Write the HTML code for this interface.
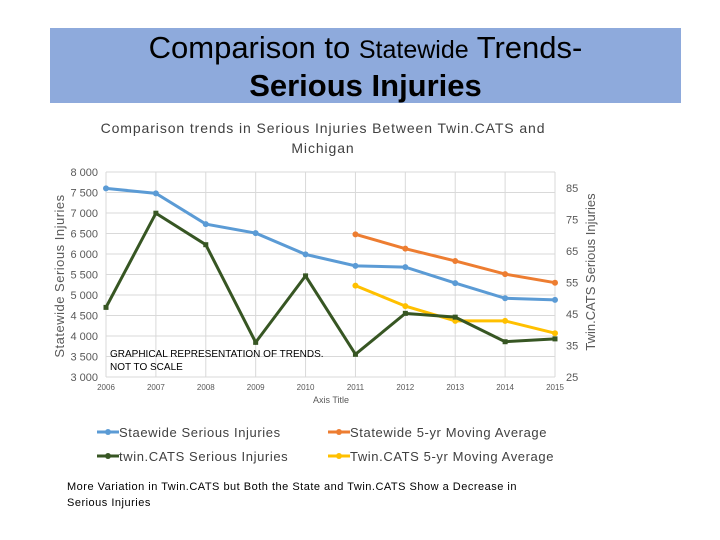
<!DOCTYPE html>
<html><head><meta charset="utf-8"><style>
body{margin:0;width:720px;height:540px;background:#fff;font-family:"Liberation Sans",sans-serif;position:relative;overflow:hidden}
.banner{position:absolute;left:50px;top:28px;width:631px;height:75px;background:#8eaadc;text-align:center;color:#000}
.t1{font-size:31px;line-height:36px;margin-top:2px}
.t2{font-size:31px;font-weight:bold;line-height:36px}
</style></head><body>
<div class="banner">
<div class="t1">Comparison to <span style="font-size:25px">Statewide</span> Trends-</div>
<div class="t2">Serious Injuries</div>
</div>
<svg id="c" width="720" height="540" style="position:absolute;left:0;top:0" font-family="Liberation Sans, sans-serif"></svg>
<script>
const years=[2006,2007,2008,2009,2010,2011,2012,2013,2014,2015];
const stateVals=[7600,7480,6730,6510,5990,5710,5680,5290,4920,4880];
const twinVals=[47.1,77,67,36,57.1,32.2,45.2,44,36.2,37.1];
const stateAvg=[null,null,null,null,null,6480,6130,5830,5510,5300];
const twinAvg=[null,null,null,null,null,54,47.5,42.8,42.8,38.9];
const leftTicks=[3000,3500,4000,4500,5000,5500,6000,6500,7000,7500,8000];
const leftLabels=["3 000","3 500","4 000","4 500","5 000","5 500","6 000","6 500","7 000","7 500","8 000"];
const rightTicks=[25,35,45,55,65,75,85];
const svg=document.getElementById('c');const NS='http://www.w3.org/2000/svg';
function mk(t,a,p){const e=document.createElementNS(NS,t);for(const k in a)e.setAttribute(k,a[k]);(p||svg).appendChild(e);return e;}
const x=i=>106+i*(555-106)/9;
const yL=v=>377-(v-3000)*(205/5000);
const yR=v=>377-(v-25)*(189/60);
let e;
e=mk('text',{x:323,y:133,'font-size':14,'letter-spacing':0.9,'text-anchor':'middle',fill:'#404040'});e.textContent='Comparison trends in Serious Injuries Between Twin.CATS and';


e=mk('text',{x:323,y:153,'font-size':14,'letter-spacing':0.9,'text-anchor':'middle',fill:'#404040'});e.textContent='Michigan';


years.forEach((yr,i)=>{mk('line',{x1:x(i),x2:x(i),y1:172,y2:377,stroke:'#d9d9d9'});
 e=mk('text',{x:x(i),y:390,'font-size':8,'text-anchor':'middle',fill:'#595959'});e.textContent=yr;
 
 });
leftTicks.forEach((v,i)=>{mk('line',{x1:106,x2:555,y1:yL(v),y2:yL(v),stroke:'#d9d9d9'});
 e=mk('text',{x:98,y:yL(v)+4,'font-size':11,'text-anchor':'end',fill:'#595959'});e.textContent=leftLabels[i];
 
 });
rightTicks.forEach(v=>{e=mk('text',{x:566,y:yR(v)+4,'font-size':11,fill:'#595959'});e.textContent=v;
 
 });
e=mk('text',{x:0,y:0,'font-size':13,'letter-spacing':0.5,'text-anchor':'middle',fill:'#595959',transform:'translate(64,276) rotate(-90)'});e.textContent='Statewide Serious Injuries';


e=mk('text',{x:0,y:0,'font-size':13,'text-anchor':'middle',fill:'#595959',transform:'translate(595,272) rotate(-90)'});e.textContent='Twin.CATS Serious Injuries';


e=mk('text',{x:331,y:403,'font-size':9,'text-anchor':'middle',fill:'#595959'});e.textContent='Axis Title';


function series(vals,yf,col,name,sq){const pts=[];vals.forEach((v,i)=>{if(v!==null)pts.push([x(i),yf(v)]);});
 const g=mk('g',{});
 mk('polyline',{points:pts.map(p=>p.join(',')).join(' '),fill:'none',stroke:col,'stroke-width':3},g);
 pts.forEach(p=>{if(sq)mk('rect',{x:p[0]-2.5,y:p[1]-2.5,width:5,height:5,fill:col},g);else mk('circle',{cx:p[0],cy:p[1],r:3,fill:col},g);});}
series(stateVals,yL,'#5b9bd5','statewide-series');
series(stateAvg,yL,'#ed7d31','statewide-avg-series');
series(twinAvg,yR,'#ffc000','twincats-avg-series');
series(twinVals,yR,'#375623','twincats-series',true);
e=mk('text',{x:110,y:357,'font-size':10,fill:'#000'});e.textContent='GRAPHICAL REPRESENTATION OF TRENDS.';


e=mk('text',{x:110,y:370,'font-size':10,fill:'#000'});e.textContent='NOT TO SCALE';


const legItems=[['Staewide Serious Injuries','#5b9bd5',97,432],['Statewide 5-yr Moving Average','#ed7d31',328,432],['twin.CATS Serious Injuries','#375623',97,456],['Twin.CATS 5-yr Moving Average','#ffc000',328,456]];
legItems.forEach(l=>{const g=mk('g',{});
 mk('line',{x1:l[2],x2:l[2]+22,y1:l[3],y2:l[3],stroke:l[1],'stroke-width':3},g);
 mk('circle',{cx:l[2]+11,cy:l[3],r:3,fill:l[1]},g);
 const t=mk('text',{x:l[2]+22,y:l[3]+5,'font-size':13,'letter-spacing':0.6,fill:'#404040'},g);t.textContent=l[0];});
e=mk('text',{x:67,y:490,'font-size':11,'letter-spacing':0.5,fill:'#000'});e.textContent='More Variation in Twin.CATS but Both the State and Twin.CATS Show a Decrease in';


e=mk('text',{x:67,y:506,'font-size':11,'letter-spacing':0.5,fill:'#000'});e.textContent='Serious Injuries';


</script>
</body></html>
